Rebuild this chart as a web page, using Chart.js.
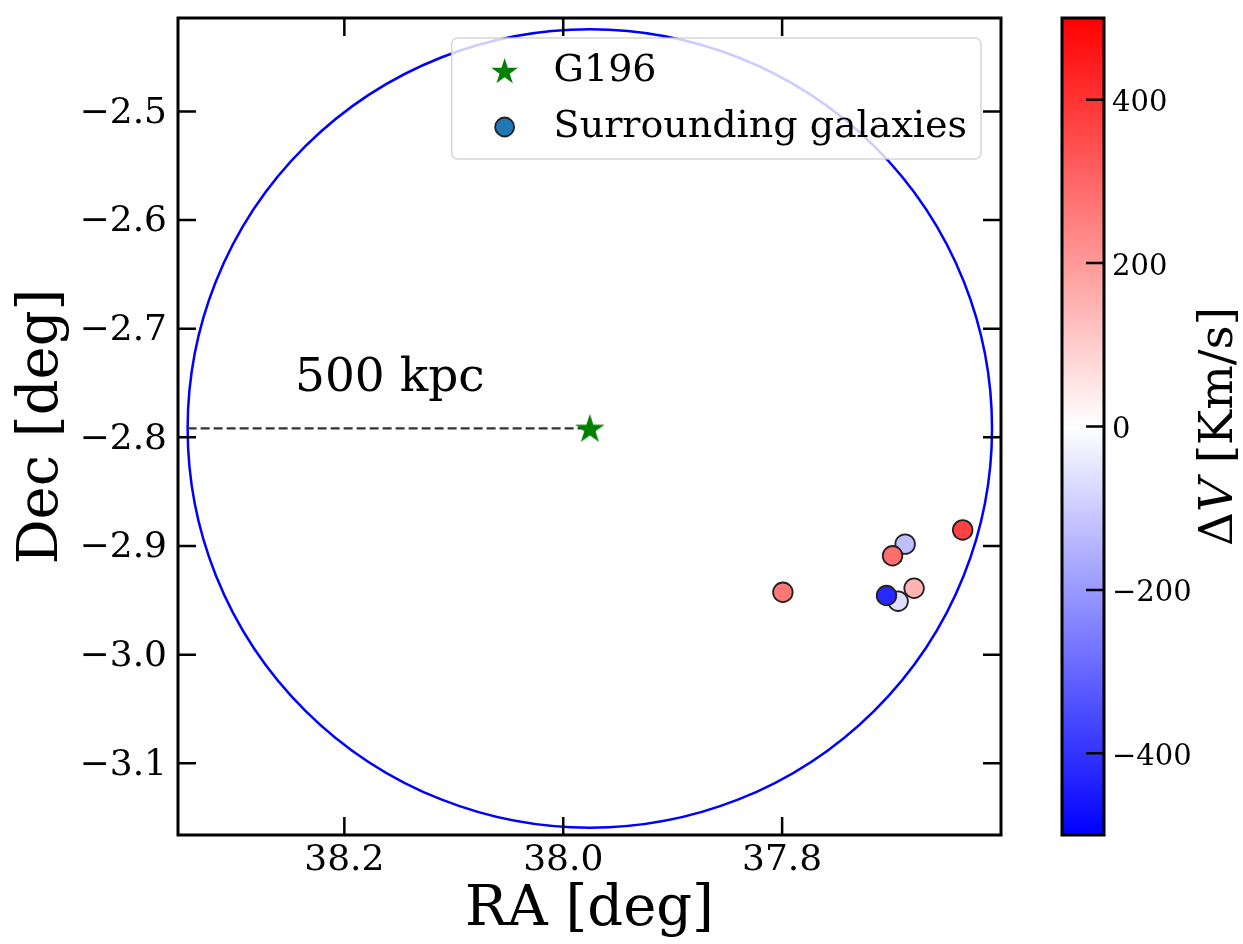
<!DOCTYPE html>
<html><head><meta charset="utf-8">
<script src="https://cdn.jsdelivr.net/npm/chart.js@4.4.1/dist/chart.umd.min.js"></script>
<style>html,body{margin:0;padding:0;background:#fff;} #wrap{width:1243px;height:944px;position:relative;}</style>
</head><body><div id="wrap"><canvas id="c" width="1243" height="944"></canvas></div>
<script>
// ---- data ----
const G196_RA = [37.9757];
const G196_DEC = [-2.7918];
const RADIUS_500KPC_DEG = 0.3675;
const GAL_RA  = [37.6876, 37.6991, 37.6940, 37.7046, 37.6794, 37.6350, 37.7993];
const GAL_DEC = [-2.8983, -2.9090, -2.9508, -2.9456, -2.9389, -2.8852, -2.9426];
const GAL_DV  = [-125, 285, -65, -420, 150, 370, 265];
const X_TICKS = [38.2, 38.0, 37.8];
const Y_TICKS = [-2.5, -2.6, -2.7, -2.8, -2.9, -3.0, -3.1];
const CB_TICKS = [-400, -200, 0, 200, 400];
const X_RANGE = [37.600, 38.352];
const Y_RANGE = [-3.166, -2.414];
const CB_RANGE = [-500, 500];
const LABELS = {x: 'RA [deg]', y: 'Dec [deg]', star: 'G196', gal: 'Surrounding galaxies', scale: '500 kpc'};

const SERIF = '"DejaVu Serif", "Liberation Serif", serif';
const fmt = v => (v < 0 ? '\u2212' : '') + Math.abs(v).toFixed(1);
const fmtInt = v => (v < 0 ? '\u2212' : '') + Math.abs(v).toFixed(0);

function bwr(v) {
  let t = (v - CB_RANGE[0]) / (CB_RANGE[1] - CB_RANGE[0]);
  t = Math.max(0, Math.min(1, t));
  let r, g, b;
  if (t < 0.5) { r = g = t * 2; b = 1; } else { r = 1; g = b = 2 - 2 * t; }
  return `rgb(${Math.round(r*255)},${Math.round(g*255)},${Math.round(b*255)})`;
}

function starPath(ctx, cx, cy, R) {
  const r = R * 0.381966;
  ctx.beginPath();
  for (let i = 0; i < 10; i++) {
    const a = -Math.PI / 2 + i * Math.PI / 5;
    const rr = i % 2 === 0 ? R : r;
    const px = cx + rr * Math.cos(a), py = cy + rr * Math.sin(a);
    if (i === 0) ctx.moveTo(px, py); else ctx.lineTo(px, py);
  }
  ctx.closePath();
}
const starImg = document.createElement('canvas');
starImg.width = 34; starImg.height = 34;
(function(){ const c = starImg.getContext('2d'); starPath(c, 17, 18, 15.5); c.fillStyle = '#008000'; c.fill(); })();

const deco = {
  id: 'deco',
  beforeDatasetsDraw(chart) {
    const {ctx, chartArea: ca, scales: {x, y}} = chart;
    const cx = x.getPixelForValue(G196_RA[0]), cy = y.getPixelForValue(G196_DEC[0]);
    const rx = Math.abs(x.getPixelForValue(G196_RA[0] + RADIUS_500KPC_DEG) - cx);
    const ry = Math.abs(y.getPixelForValue(G196_DEC[0] + RADIUS_500KPC_DEG) - cy);
    ctx.save();
    ctx.beginPath(); ctx.rect(ca.left, ca.top, ca.right - ca.left, ca.bottom - ca.top); ctx.clip();
    ctx.beginPath(); ctx.ellipse(cx, cy, rx, ry, 0, 0, Math.PI * 2);
    ctx.strokeStyle = '#0000ff'; ctx.lineWidth = 2.5; ctx.stroke();
    // scale annotation
    ctx.fillStyle = '#000'; ctx.font = '47px ' + SERIF; ctx.textAlign = 'left'; ctx.textBaseline = 'alphabetic';
    ctx.fillText(LABELS.scale, 295, 391);
    ctx.restore();
  },
  afterDatasetsDraw(chart) {
    const {ctx, chartArea: ca} = chart;
    ctx.save();
    ctx.font = '38px ' + SERIF;
    const ds = chart.data.datasets;
    const names = [ds[0].label, ds[1].label];
    const tw = Math.max(...names.map(n => ctx.measureText(n).width));
    const right = ca.right - 20, top = ca.top + 20;
    const w = 102 + tw + 14, h = 121;
    const left = right - w;
    ctx.beginPath(); ctx.roundRect(left, top, w, h, 6);
    ctx.fillStyle = 'rgba(255,255,255,0.8)'; ctx.fill();
    ctx.strokeStyle = 'rgba(204,204,204,0.8)'; ctx.lineWidth = 1.5; ctx.stroke();
    // markers
    starPath(ctx, left + 53, top + 34, 14); ctx.fillStyle = '#008000'; ctx.fill();
    ctx.beginPath(); ctx.arc(left + 53, top + 89, 9.5, 0, Math.PI * 2);
    ctx.fillStyle = '#1f77b4'; ctx.fill(); ctx.strokeStyle = '#222'; ctx.lineWidth = 1.8; ctx.stroke();
    ctx.fillStyle = '#000'; ctx.textAlign = 'left'; ctx.textBaseline = 'middle';
    ctx.fillText(names[0], left + 102, top + 33);
    ctx.fillText(names[1], left + 102, top + 89);
    ctx.restore();
  },
  afterDraw(chart) {
    const {ctx, chartArea: ca, scales: {x, y, cb}} = chart;
    ctx.save();
    ctx.strokeStyle = '#000'; ctx.lineWidth = 2.5;
    const TL = 18;
    ctx.beginPath();
    x.ticks.forEach(t => { const p = x.getPixelForValue(t.value);
      ctx.moveTo(p, ca.bottom); ctx.lineTo(p, ca.bottom - TL);
      ctx.moveTo(p, ca.top); ctx.lineTo(p, ca.top + TL); });
    y.ticks.forEach(t => { const p = y.getPixelForValue(t.value);
      ctx.moveTo(ca.left, p); ctx.lineTo(ca.left + TL, p);
      ctx.moveTo(ca.right, p); ctx.lineTo(ca.right - TL, p); });
    ctx.stroke();
    ctx.lineWidth = 3;
    ctx.strokeRect(ca.left, ca.top, ca.right - ca.left, ca.bottom - ca.top);
    // colorbar
    const cl = ca.right + 61, cr = ca.right + 103;
    const ct = cb.getPixelForValue(CB_RANGE[1]), cbt = cb.getPixelForValue(CB_RANGE[0]);
    const grad = ctx.createLinearGradient(0, cbt, 0, ct);
    grad.addColorStop(0, bwr(CB_RANGE[0])); grad.addColorStop(0.5, bwr(0)); grad.addColorStop(1, bwr(CB_RANGE[1]));
    ctx.fillStyle = grad; ctx.fillRect(cl, ct, cr - cl, cbt - ct);
    ctx.lineWidth = 2.5;
    ctx.beginPath();
    cb.ticks.forEach(t => { const p = cb.getPixelForValue(t.value); ctx.moveTo(cr, p); ctx.lineTo(cr - TL, p); });
    ctx.stroke();
    ctx.lineWidth = 3; ctx.strokeRect(cl, ct, cr - cl, cbt - ct);
    // colorbar label (ΔV italic V)
    const parts = [['\u0394', '47px ' + SERIF], ['V', 'italic 47px ' + SERIF], [' [Km/s]', '47px ' + SERIF]];
    let W = 0; parts.forEach(p => { ctx.font = p[1]; W += ctx.measureText(p[0]).width; });
    ctx.translate(ca.right + 231, (ct + cbt) / 2); ctx.rotate(-Math.PI / 2);
    ctx.fillStyle = '#000'; ctx.textBaseline = 'alphabetic'; ctx.textAlign = 'left';
    let px = -W / 2;
    parts.forEach(p => { ctx.font = p[1]; ctx.fillText(p[0], px, 0); px += ctx.measureText(p[0]).width; });
    ctx.restore();
  }
};

const zeroPad = s => { s.paddingTop = 0; s.paddingBottom = 0; s.paddingLeft = 0; s.paddingRight = 0; };

new Chart(document.getElementById('c'), {
  type: 'scatter',
  data: {
    datasets: [
      { label: LABELS.star, data: G196_RA.map((ra, i) => ({x: ra, y: G196_DEC[i]})),
        pointStyle: starImg, pointRadius: 17, xAxisID: 'x', yAxisID: 'y' },
      { label: LABELS.gal, data: GAL_RA.map((ra, i) => ({x: ra, y: GAL_DEC[i]})),
        pointBackgroundColor: GAL_DV.map(bwr), pointBorderColor: '#222', pointBorderWidth: 1.8,
        pointRadius: 9.8, pointHoverRadius: 9.8, xAxisID: 'x', yAxisID: 'y' },
      { label: 'scale', data: [{x: G196_RA[0] + RADIUS_500KPC_DEG, y: G196_DEC[0]}, {x: G196_RA[0], y: G196_DEC[0]}],
        showLine: true, pointRadius: 0, borderColor: '#333', borderWidth: 2.3, borderDash: [9, 4],
        xAxisID: 'x', yAxisID: 'y' }
    ]
  },
  plugins: [deco],
  options: {
    responsive: false, animation: false, devicePixelRatio: 1,
    layout: {padding: {top: 15, left: 0, right: 0, bottom: 0}},
    plugins: {legend: {display: false}, tooltip: {enabled: false}},
    scales: {
      x: { type: 'linear', position: 'bottom', reverse: true, min: X_RANGE[0], max: X_RANGE[1],
        afterBuildTicks: s => { s.ticks = X_TICKS.map(v => ({value: v})); },
        afterFit: s => { s.height = 109; zeroPad(s); },
        grid: {display: false, drawTicks: false}, border: {display: false},
        ticks: {callback: v => fmt(v), font: {family: SERIF, size: 36}, color: '#000', padding: 4, maxRotation: 0, autoSkip: false},
        title: {display: true, text: LABELS.x, font: {family: SERIF, size: 56}, color: '#000', padding: {top: 0, bottom: 0}} },
      y: { type: 'linear', position: 'left', min: Y_RANGE[0], max: Y_RANGE[1],
        afterBuildTicks: s => { s.ticks = Y_TICKS.map(v => ({value: v})); },
        afterFit: s => { s.width = 178; zeroPad(s); },
        grid: {display: false, drawTicks: false}, border: {display: false},
        ticks: {callback: v => fmt(v), font: {family: SERIF, size: 36}, color: '#000', padding: 11, labelOffset: 2, autoSkip: false},
        title: {display: true, text: LABELS.y, font: {family: SERIF, size: 56}, color: '#000', padding: {top: 9, bottom: 0}} },
      cb: { type: 'linear', position: 'right', min: CB_RANGE[0], max: CB_RANGE[1],
        afterBuildTicks: s => { s.ticks = CB_TICKS.map(v => ({value: v})); },
        afterFit: s => { s.width = 242; zeroPad(s); },
        grid: {display: false, drawTicks: false}, border: {display: false},
        ticks: {callback: v => fmtInt(v), font: {family: SERIF, size: 29}, color: '#000', padding: 111, labelOffset: 4, autoSkip: false} }
    }
  }
});
</script></body></html>
